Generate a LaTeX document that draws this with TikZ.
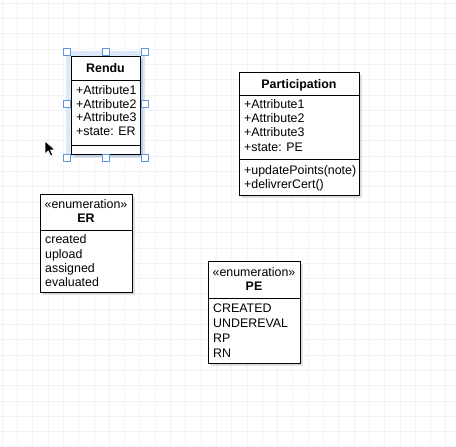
\documentclass[tikz,border=0pt]{standalone}
\usepackage{fontspec}
\setmainfont{Liberation Sans}
\usetikzlibrary{shadows}
\definecolor{gridc}{RGB}{242,242,247}
\definecolor{selfill}{RGB}{220,233,250}
\definecolor{selline}{RGB}{95,150,225}
\tikzset{
  umlbox/.style={draw=black, fill=white, line width=0.9pt, inner sep=0pt, outer sep=0pt, anchor=north west,
    drop shadow={shadow xshift=3pt, shadow yshift=-3pt, opacity=0.12, fill=black}},
  txt/.style={anchor=base west, inner sep=0pt, font=\fontsize{12.4}{14}\selectfont},
  ctxt/.style={anchor=base, inner sep=0pt, font=\fontsize{12.4}{14}\selectfont},
  btxt/.style={anchor=base, inner sep=0pt, font=\fontsize{12.4}{14}\selectfont\bfseries},
  divider/.style={draw=black, line width=0.9pt},
  handle/.style={draw=selline, fill=white, line width=0.7pt, minimum size=7pt, inner sep=0pt},
}
\begin{document}
\begin{tikzpicture}[x=1pt, y=-1pt]
\useasboundingbox (0,0) rectangle (456,447);
\fill[white] (0,0) rectangle (456,447);
% grid
\foreach \i in {0,...,29} \draw[gridc, line width=0.6pt] ({2+15.3*\i},0) -- ({2+15.3*\i},447);
\foreach \j in {0,...,29} \draw[gridc, line width=0.6pt] (0,{3+15.3*\j}) -- (456,{3+15.3*\j});

% selection highlight for Rendu
\fill[selfill] (66,51) rectangle (145,158);

% Rendu
\node[umlbox, minimum width=69pt, minimum height=98pt] (rendu) at (71,56) {};
\draw[divider] (rendu.west |- 0,80) -- (rendu.east |- 0,80);
\draw[divider] (rendu.west |- 0,145) -- (rendu.east |- 0,145);
\node[btxt] (rt) at (105.5,72.5) {Rendu};
\node[txt] (ra1) at (76,94.5) {+Attribute1};
\node[txt] (ra2) at (76,108) {+Attribute2};
\node[txt] (ra3) at (76,121.5) {+Attribute3};
\node[txt] (ra4) at (76,135.5) {+state: ER};

% handles
\foreach \hx/\hy [count=\k] in {66.5/51.5,105.5/51.5,145/51.5,66.5/104,145/104,66.5/157.5,105.5/157.5,145/157.5}
  \node[handle] (h\k) at (\hx,\hy) {};

% Participation
\node[umlbox, minimum width=120pt, minimum height=123pt] (part) at (239,72) {};
\draw[divider] (part.west |- 0,95) -- (part.east |- 0,95);
\draw[divider] (part.west |- 0,159) -- (part.east |- 0,159);
\node[btxt] (pt) at (299,88) {Participation};
\node[txt] (pa1) at (244,108.5) {+Attribute1};
\node[txt] (pa2) at (244,122.5) {+Attribute2};
\node[txt] (pa3) at (244,136.5) {+Attribute3};
\node[txt] (pa4) at (244,151) {+state: PE};
\node[txt] (pm1) at (244,174.5) {+updatePoints(note)};
\node[txt] (pm2) at (244,188.5) {+delivrerCert()};

% ER
\node[umlbox, minimum width=92pt, minimum height=98pt] (er) at (40,194) {};
\draw[divider] (er.west |- 0,230) -- (er.east |- 0,230);
\node[ctxt] (est) at (86,208.5) {«enumeration»};
\node[btxt] (ename) at (86,222.5) {ER};
\node[txt] (e1) at (45,243.5) {created};
\node[txt] (e2) at (45,258) {upload};
\node[txt] (e3) at (45,272) {assigned};
\node[txt] (e4) at (45,286.5) {evaluated};

% PE
\node[umlbox, minimum width=92pt, minimum height=102pt] (pe) at (208,261) {};
\draw[divider] (pe.west |- 0,298) -- (pe.east |- 0,298);
\node[ctxt] (pst) at (254,276.5) {«enumeration»};
\node[btxt] (pname) at (254,290) {PE};
\node[txt] (q1) at (213,312.5) {CREATED};
\node[txt] (q2) at (213,327.5) {UNDEREVAL};
\node[txt] (q3) at (213,342.5) {RP};
\node[txt] (q4) at (213,357) {RN};

% mouse cursor
\filldraw[fill=black, draw=white, line width=0.6pt, line join=round]
  (45,141) -- (45,154) -- (48.3,150.8) -- (50.8,156) -- (52.8,155.1) -- (50.4,150) -- (54.8,149.8) -- cycle;
\end{tikzpicture}
\end{document}
